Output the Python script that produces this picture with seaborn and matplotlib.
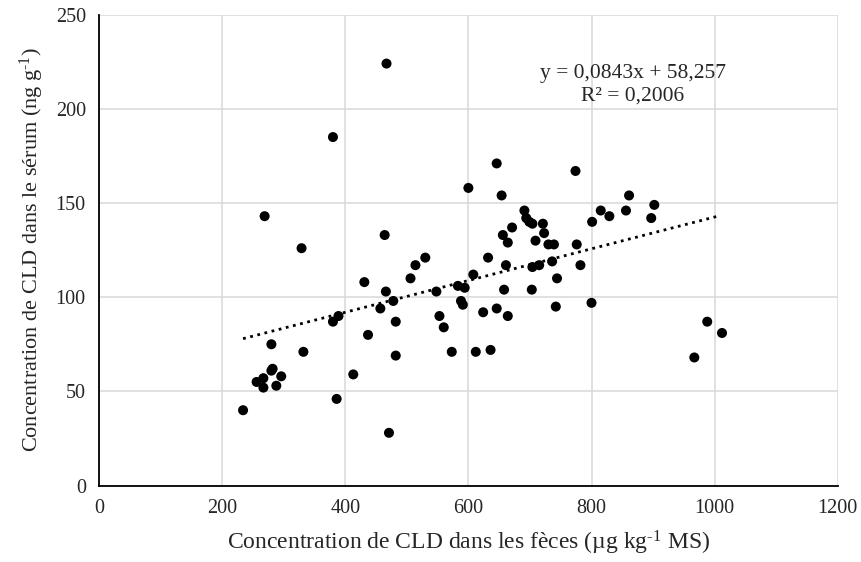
import numpy as np
import pandas as pd
import matplotlib
matplotlib.use("Agg")
import matplotlib.pyplot as plt
import seaborn as sns

# CLD in faeces (x, µg/kg DM) vs CLD in serum (y, ng/g)
feces = [600, 269, 329, 464, 530, 514, 506, 431, 466, 478, 457, 548, 583, 594,
         608, 588, 591, 553, 560, 573, 482, 482, 437, 380, 389, 332, 280, 282,
         280, 296, 288, 267, 256, 267, 234, 386, 413, 471, 467, 380,
         646, 654, 774, 861, 902, 897, 856, 829, 815, 801, 691, 694, 699, 704,
         721, 671, 656, 664, 723, 709, 730, 739, 776, 632, 661, 736, 704, 715,
         782, 744, 658, 703, 800, 742, 624, 646, 664, 612, 636, 988, 1012, 967]
serum = [158, 143, 126, 133, 121, 117, 110, 108, 103, 98, 94, 103, 106, 105,
         112, 98, 96, 90, 84, 71, 87, 69, 80, 87, 90, 71, 75, 62,
         61, 58, 53, 57, 55, 52, 40, 46, 59, 28, 224, 185,
         171, 154, 167, 154, 149, 142, 146, 143, 146, 140, 146, 142, 140, 139,
         139, 137, 133, 129, 134, 130, 128, 128, 128, 121, 117, 119, 116, 117,
         117, 110, 104, 104, 97, 95, 92, 94, 90, 71, 72, 87, 81, 68]

# linear trend printed on the chart
slope = 0.0843
intercept = 58.257
r2 = 0.2006

df = pd.DataFrame({"feces": feces, "serum": serum})
trend = pd.DataFrame({"x": [min(feces), 1004]})
trend["y"] = slope * trend["x"] + intercept

sns.set_style("white")
plt.rcParams["font.family"] = ["Liberation Serif", "DejaVu Serif"]
plt.rcParams["mathtext.fontset"] = "custom"
plt.rcParams["mathtext.rm"] = "Liberation Serif"
plt.rcParams["mathtext.it"] = "Liberation Serif:italic"

fig = plt.figure(figsize=(8.61, 5.62), dpi=100)
ax = fig.add_axes([0.115, 0.136, 0.858, 0.838])

sns.scatterplot(x="feces", y="serum", data=df, ax=ax, color="black",
                s=52, edgecolor="none", zorder=3)
sns.lineplot(x="x", y="y", data=trend, ax=ax, color="black",
             linestyle=":", linewidth=2.0, zorder=2)

ax.set_xlim(0, 1200)
ax.set_ylim(0, 250)
ax.set_xticks(range(0, 1201, 200))
ax.set_yticks(range(0, 251, 50))
ax.grid(True, color="#d9d9d9", linewidth=1.1)
ax.set_axisbelow(True)

for side in ["top", "right"]:
    ax.spines[side].set_visible(False)
for side in ["left", "bottom"]:
    ax.spines[side].set_color("black")
    ax.spines[side].set_linewidth(1.3)

ax.tick_params(axis="both", direction="out", length=4.5, width=1.2,
               color="black", labelsize=14.5, pad=5)

ax.set_xlabel("Concentration de CLD dans les fèces (µg kg$^{\\text{-}1}$ MS)",
              fontsize=17, labelpad=8)
ax.set_ylabel("Concentration de CLD dans le sérum (ng g$^{\\text{-}1}$)",
              fontsize=16, labelpad=7)

r2_txt = f"{r2:.4f}".replace(".", ",")
ax.text(867, 213, f"y = 0,0843x + 58,257\nR² = {r2_txt}",
        ha="center", va="center", fontsize=15.5, linespacing=1.25)

plt.savefig("out.png", dpi=100)
